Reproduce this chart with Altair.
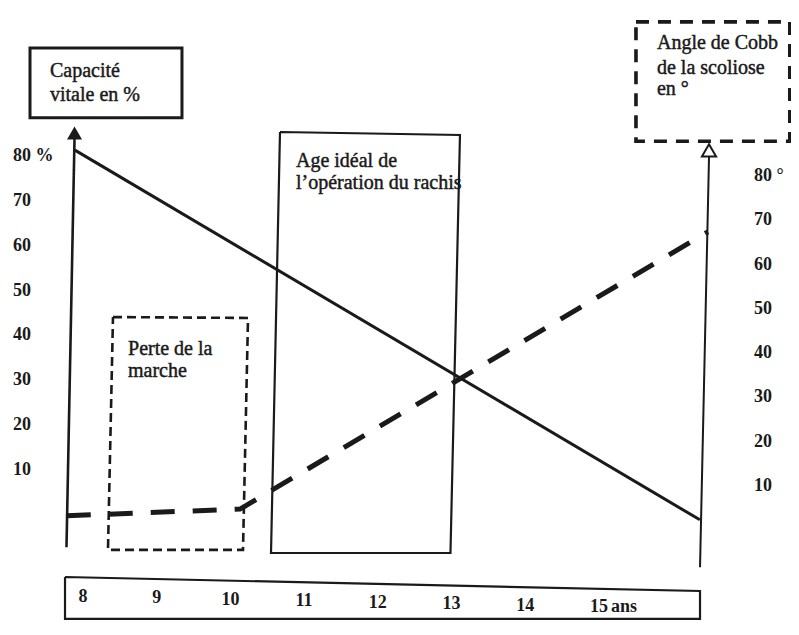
import altair as alt
import pandas as pd

# ---------------- data ----------------
# bottom scale: age in years
years = [8, 9, 10, 11, 12, 13, 14, 15]
year_labels = ["8", "9", "10", "11", "12", "13", "14", "15"]
unit_label = "ans"

# left scale: capacité vitale (%)
left_ticks = [80, 70, 60, 50, 40, 30, 20, 10]
left_labels = ["80 %", "70", "60", "50", "40", "30", "20", "10"]

# right scale: angle de Cobb (°)
right_ticks = [80, 70, 60, 50, 40, 30, 20, 10]
right_labels = ["80 °", "70", "60", "50", "40", "30", "20", "10"]

# solid line: capacité vitale (%) vs age
vital_age = [7.89, 16.37]
vital_pct = [81.3, -1.1]

# dashed line: angle de Cobb (°) vs age
cobb_age = [7.78, 10.13, 16.48]
cobb_deg = [3.3, 4.8, 67.4]

# vertical axis lines (age top, age bottom, value top, value bottom)
left_axis = [7.885, 7.776, 84.0, -7.2]     # in %
right_axis = [16.494, 16.372, 84.3, -8.3]  # in °

# annotation boxes (ages / % values of their corners)
capacite_box = [7.281, 9.343, 88.5, 104.1]
cobb_box = [15.503, 17.59, 83.3, 109.9]
age_box_age = [10.673, 13.115, 12.986, 10.551, 10.673]
age_box_pct = [85.35, 84.68, -8.5, -8.5, 85.35]
perte_box_age = [8.407, 10.239, 10.171, 8.339, 8.407]
perte_box_pct = [44.1, 43.9, -7.8, -7.8, 44.1]
scale_box_age = [7.756, 16.372, 16.372, 7.756, 7.756]
scale_box_pct = [-13.85, -16.97, -23.2, -23.2, -13.85]

capacite_text = ["Capacité", "vitale en %"]
capacite_text_pos = [7.552, 98.95, 93.6]
cobb_text = ["Angle de Cobb", "de la scoliose", "en °"]
cobb_text_pos = [15.788, 105.2, 99.6, 94.9]
age_text = ["Age idéal de", "l’opération du rachis"]
age_text_pos = [10.89, 78.9, 74.0]
perte_text = ["Perte de la", "marche"]
perte_text_pos = [8.611, 37.0, 32.1]

left_label_age = 7.05
right_label_age = 17.105

# ---------------- scales ----------------
XD = [6.9824, 17.6065]
YLD = [-23.43, 112.99]
YRD = [-20.23, 117.92]
INK = "#1a1a1a"
FONT = "Liberation Serif"


def X(f="x"):
    return alt.X(f"{f}:Q", scale=alt.Scale(domain=XD, nice=False, zero=False), axis=None)


def YL(f="y"):
    return alt.Y(f"{f}:Q", scale=alt.Scale(domain=YLD, nice=False, zero=False), axis=None)


def YR(f="y"):
    return alt.Y(f"{f}:Q", scale=alt.Scale(domain=YRD, nice=False, zero=False), axis=None)


def polygon(ages, vals, dash=None, width=2.0):
    df = pd.DataFrame({"x": ages, "y": vals, "o": list(range(len(ages)))})
    kw = dict(color=INK, strokeWidth=width, strokeJoin="miter")
    if dash:
        kw["strokeDash"] = dash
    return alt.Chart(df).mark_line(**kw).encode(x=X(), y=YL(), order="o:Q")


def rect(box, dash=None, width=3.0):
    df = pd.DataFrame({"x": [box[0]], "x2": [box[1]], "y": [box[2]], "y2": [box[3]]})
    kw = dict(filled=False, stroke=INK, strokeWidth=width)
    if dash:
        kw["strokeDash"] = dash
    return alt.Chart(df).mark_rect(**kw).encode(
        x=X(), x2=alt.X2("x2:Q"), y=YL(), y2=alt.Y2("y2:Q"))


def lines_text(texts, pos, size=20):
    df = pd.DataFrame({"t": texts, "x": [pos[0]] * len(texts), "y": pos[1:]})
    return alt.Chart(df).mark_text(
        align="left", baseline="middle", font=FONT, fontSize=size,
        color=INK, stroke=INK, strokeWidth=0.45).encode(x=X(), y=YL(), text="t:N")


layers = []

# boxes
layers.append(polygon(scale_box_age, scale_box_pct, width=2.2))
layers.append(polygon(perte_box_age, perte_box_pct, dash=[9, 5], width=2.6))
layers.append(polygon(age_box_age, age_box_pct, width=2.2))
layers.append(rect(capacite_box, width=3.0))
layers.append(rect(cobb_box, dash=[13, 9], width=3.6))

# axis lines
la = pd.DataFrame({"x": [left_axis[0]], "x2": [left_axis[1]],
                   "y": [left_axis[2]], "y2": [left_axis[3]]})
layers.append(alt.Chart(la).mark_rule(color=INK, strokeWidth=2.6).encode(
    x=X(), x2=alt.X2("x2:Q"), y=YL(), y2=alt.Y2("y2:Q")))
ra = pd.DataFrame({"x": [right_axis[0]], "x2": [right_axis[1]],
                   "y": [right_axis[2]], "y2": [right_axis[3]]})
layers.append(alt.Chart(ra).mark_rule(color=INK, strokeWidth=2.0).encode(
    x=X(), x2=alt.X2("x2:Q"), y=YR(), y2=alt.Y2("y2:Q")))

# arrow heads
layers.append(alt.Chart(pd.DataFrame({"x": [left_axis[0]], "y": [left_axis[2] + 1.1]}))
              .mark_point(shape="triangle-up", filled=True, size=225, color=INK, opacity=1)
              .encode(x=X(), y=YL()))
layers.append(alt.Chart(pd.DataFrame({"x": [right_axis[0]], "y": [right_axis[2] + 1.5]}))
              .mark_point(shape="triangle-up", filled=True, size=200, fill="white",
                          stroke=INK, strokeWidth=2, opacity=1)
              .encode(x=X(), y=YR()))

# series
vital = pd.DataFrame({"x": vital_age, "y": vital_pct})
layers.append(alt.Chart(vital).mark_line(color=INK, strokeWidth=3).encode(x=X(), y=YL()))
cobb = pd.DataFrame({"x": cobb_age, "y": cobb_deg})
layers.append(alt.Chart(cobb).mark_line(color=INK, strokeWidth=5, strokeDash=[24, 18])
              .encode(x=X(), y=YR()))

# texts in boxes
layers.append(lines_text(capacite_text, capacite_text_pos))
layers.append(lines_text(cobb_text, cobb_text_pos))
layers.append(lines_text(age_text, age_text_pos))
layers.append(lines_text(perte_text, perte_text_pos))

# left scale labels
ll = pd.DataFrame({"t": left_labels, "y": left_ticks, "x": [left_label_age] * len(left_ticks)})
layers.append(alt.Chart(ll).mark_text(
    align="left", baseline="middle", font=FONT, fontSize=18, fontWeight="bold",
    color=INK).encode(x=X(), y=YL(), text="t:N"))

# right scale labels
rl = pd.DataFrame({"t": right_labels, "y": right_ticks, "x": [right_label_age] * len(right_ticks)})
layers.append(alt.Chart(rl).mark_text(
    align="left", baseline="middle", font=FONT, fontSize=18, fontWeight="bold",
    color=INK).encode(x=X(), y=YR(), text="t:N"))

# bottom scale labels (the scanned page is slightly tilted)
bl = pd.DataFrame({"t": year_labels, "x": years})
layers.append(alt.Chart(bl).mark_text(
    align="center", baseline="middle", font=FONT, fontSize=18, fontWeight="bold",
    color=INK).encode(x=X(), y=YL("yy"), text="t:N")
    .transform_calculate(yy="-18.3 - (datum.x - 8) * 0.33"))
ul = pd.DataFrame({"t": [unit_label], "x": [years[-1]]})
layers.append(alt.Chart(ul).mark_text(
    align="left", baseline="middle", font=FONT, fontSize=18, fontWeight="bold",
    dx=12, color=INK).encode(x=X(), y=YL("yy"), text="t:N")
    .transform_calculate(yy="-18.3 - (datum.x - 8) * 0.33"))

chart = (
    alt.layer(*layers)
    .resolve_scale(y="independent")
    .properties(width=783, height=612, padding=0,
                autosize=alt.AutoSizeParams(type="none"), background="white")
    .configure_view(stroke=None)
)

chart.save("out.html", embed_options={"renderer": "svg", "actions": False})
